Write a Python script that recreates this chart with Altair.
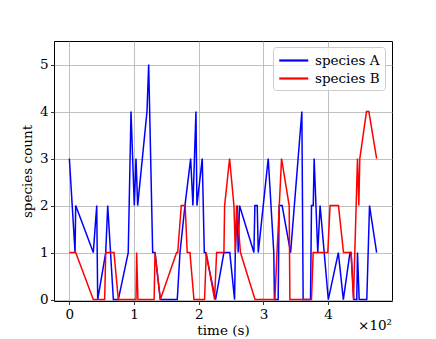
import altair as alt
import pandas as pd

# species A (blue): event times (s) and counts
time_a = [0, 8.8, 9.8, 37, 42.3, 43.8, 56.2, 59.3, 68, 75.7, 91, 95.3, 100.4, 103, 105.6,
          120, 122.6, 128.8, 132.4, 140.6, 166.8, 171, 178.7, 187.5, 191,
          195.7, 197.2, 205.4, 208.6, 210.7, 226, 238.9, 248, 255.4, 256.5, 259.5, 261,
          263, 285.3, 286.8, 290.4, 292, 307.4, 316, 317, 322.8, 324.3, 328.9, 342, 359.4,
          361.4, 372.8, 374.3, 377, 378.4, 384, 387.6, 400.3, 415.8, 423.5, 433.8, 435.5,
          439.7, 444.3, 445.4, 448, 459.8, 464, 475]
count_a = [3, 1, 2, 1, 2, 0, 1, 2, 0, 0, 1, 4, 2, 3, 2,
           4, 5, 1, 1, 0, 0, 1, 2, 3, 2,
           4, 2, 3, 1, 1, 0, 1, 1, 0, 1, 2, 1,
           2, 1, 2, 2, 1, 3, 1, 0, 0, 2, 2, 1, 4,
           0, 0, 2, 2, 3, 1, 2, 0, 1, 0, 1, 1,
           0, 0, 1, 0, 0, 2, 1]

# species B (red)
time_b = [0, 9.8, 37, 54.6, 56.2, 69, 75.7, 103, 104, 106, 131, 132.4, 140.6, 165.8,
          167.5, 173, 179, 182.2, 186.4, 192.6, 209, 211.6, 224.5, 227.6, 238.9, 240,
          247.7, 254.4, 256.5, 258.5, 264.5, 287, 317.7, 321, 328, 339.8, 340.9, 374.3,
          376.9, 399.5, 403, 416, 423.8, 435.5, 439.2, 445.4, 447.5, 449, 459.3, 463, 475]
count_b = [1, 1, 0, 0, 1, 1, 0, 0, 1, 0, 0, 1, 0, 1,
           1, 2, 2, 1, 1, 0, 0, 1, 0, 1, 1, 2,
           3, 2, 1, 2, 1, 0, 0, 1, 3, 2, 0, 0,
           1, 1, 2, 2, 1, 1, 0, 3, 2, 3, 4, 4, 3]

series_names = ["species A", "species B"]
series_colors = ["#0000ff", "#ff0000"]
x_ticks = [0, 100, 200, 300, 400]
y_ticks = [0, 1, 2, 3, 4, 5]

rows = []
for i, (t, c) in enumerate(zip(time_a, count_a)):
    rows.append({"time": t, "count": c, "species": series_names[0], "idx": i})
for i, (t, c) in enumerate(zip(time_b, count_b)):
    rows.append({"time": t, "count": c, "species": series_names[1], "idx": i})
df = pd.DataFrame(rows)

FONT = "DejaVu Serif"
FS = 13.5

lines = alt.Chart(df).mark_line(strokeWidth=1.5, clip=True).encode(
    x=alt.X("time:Q", title="time (s)",
            scale=alt.Scale(domain=[-23.75, 498.75], nice=False, zero=False),
            axis=alt.Axis(values=x_ticks, labelExpr="datum.value / 100")),
    y=alt.Y("count:Q", title="species count",
            scale=alt.Scale(domain=[-0.03, 5.5], nice=False, zero=False),
            axis=alt.Axis(values=y_ticks)),
    color=alt.Color("species:N",
                    scale=alt.Scale(domain=series_names, range=series_colors),
                    legend=alt.Legend(title=None, orient="none", legendX=219, legendY=6,
                                      symbolType="M-1,0H3", symbolSize=210,
                                      symbolStrokeWidth=2.2, labelFont=FONT,
                                      labelFontSize=FS, labelColor="black",
                                      fillColor="rgba(255,255,255,0.8)",
                                      strokeColor="#cccccc", cornerRadius=3,
                                      padding=5, rowPadding=3, labelOffset=20)),
    order="idx:Q",
)

mult = alt.Chart(pd.DataFrame({"t": ["×10²"]})).mark_text(
    font=FONT, fontSize=FS, align="right", baseline="alphabetic", color="black"
).encode(text="t:N", x=alt.value(338), y=alt.value(289))

chart = alt.layer(lines, mult).properties(
    width=338, height=260,
    autosize=alt.AutoSizeParams(type="none"),
    padding={"left": 46, "top": 33, "right": 36, "bottom": 38},
).configure_view(
    stroke="black", strokeWidth=1
).configure_axis(
    grid=True, gridColor="#b0b0b0", gridWidth=0.8,
    domain=False, ticks=True, tickSize=3.5, tickColor="black", tickWidth=0.8,
    labelFont=FONT, labelFontSize=FS, labelColor="black",
    titleFont=FONT, titleFontSize=FS, titleFontWeight="normal", titleColor="black",
    labelPadding=2.5,
).configure_axisX(titlePadding=3).configure_axisY(titlePadding=5)

chart.save("out.html", embed_options={"renderer": "svg", "actions": False})
